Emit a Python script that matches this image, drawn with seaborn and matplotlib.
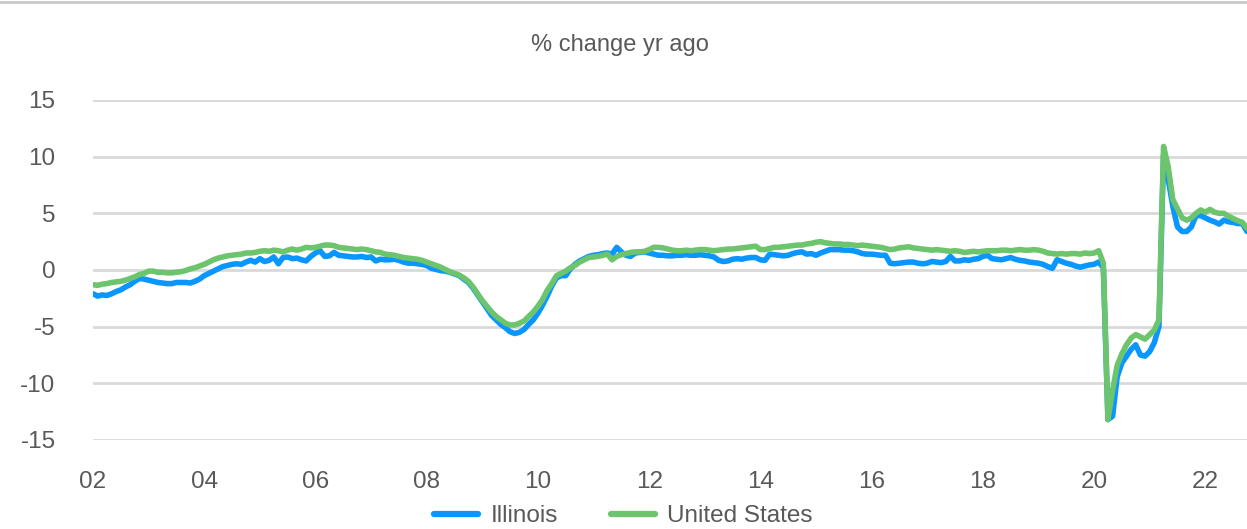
import numpy as np
import pandas as pd
import matplotlib
matplotlib.use("Agg")
import matplotlib.pyplot as plt
import seaborn as sns
from matplotlib.lines import Line2D

# monthly % change yr ago, Jan 2002 - Oct 2022
illinois = [
    -2.1, -2.3, -2.2, -2.25, -2.1, -1.9, -1.75, -1.5, -1.3, -1.0, -0.75, -0.8,   # 2002
    -0.9, -1.0, -1.1, -1.15, -1.2, -1.2, -1.1, -1.1, -1.1, -1.15, -1.0, -0.8,    # 2003
    -0.5, -0.3, -0.1, 0.1, 0.3, 0.4, 0.5, 0.55, 0.5, 0.7, 0.85, 0.7,             # 2004
    1.0, 0.75, 0.85, 1.15, 0.55, 1.1, 1.15, 1.0, 1.05, 0.9, 0.8, 1.2,            # 2005
    1.5, 1.7, 1.2, 1.25, 1.55, 1.3, 1.25, 1.2, 1.15, 1.15, 1.2, 1.1,             # 2006
    1.15, 0.8, 0.95, 0.9, 0.9, 0.95, 0.85, 0.7, 0.6, 0.6, 0.55, 0.5,             # 2007
    0.4, 0.15, 0.05, -0.05, -0.1, -0.2, -0.35, -0.5, -0.8, -1.1, -1.6, -2.2,     # 2008
    -2.8, -3.4, -4.0, -4.4, -4.8, -5.1, -5.45, -5.6, -5.5, -5.25, -4.8, -4.4,    # 2009
    -3.8, -3.1, -2.3, -1.4, -0.7, -0.5, -0.5, 0.1, 0.5, 0.8, 1.0, 1.2,           # 2010
    1.3, 1.35, 1.45, 1.5, 1.4, 2.0, 1.6, 1.3, 1.2, 1.5, 1.55, 1.6,               # 2011
    1.5, 1.4, 1.3, 1.3, 1.25, 1.25, 1.3, 1.3, 1.35, 1.3, 1.3, 1.35,              # 2012
    1.3, 1.25, 1.15, 0.85, 0.75, 0.8, 0.95, 1.0, 0.95, 1.05, 1.1, 1.1,           # 2013
    0.9, 0.85, 1.4, 1.35, 1.3, 1.25, 1.3, 1.45, 1.55, 1.6, 1.4, 1.45,            # 2014
    1.3, 1.5, 1.65, 1.8, 1.8, 1.8, 1.75, 1.75, 1.7, 1.6, 1.45, 1.4,              # 2015
    1.4, 1.35, 1.3, 1.3, 0.6, 0.55, 0.6, 0.65, 0.7, 0.7, 0.6, 0.55,              # 2016
    0.6, 0.75, 0.7, 0.65, 0.75, 1.2, 0.8, 0.8, 0.9, 0.85, 0.95, 1.0,             # 2017
    1.2, 1.3, 1.0, 0.95, 0.9, 1.0, 1.1, 0.95, 0.85, 0.8, 0.7, 0.65,              # 2018
    0.6, 0.5, 0.3, 0.15, 0.9, 0.75, 0.6, 0.5, 0.35, 0.25, 0.35, 0.45,            # 2019
    0.5, 0.7, 0.2, -13.2, -12.9, -9.4, -8.2, -7.6, -7.0, -6.6, -7.5, -7.6,       # 2020
    -7.2, -6.4, -5.0, 10.2, 8.0, 5.6, 3.8, 3.4, 3.4, 3.8, 4.8, 4.8,              # 2021
    4.6, 4.4, 4.25, 4.05, 4.4, 4.25, 4.2, 4.1, 4.1, 3.4,                         # 2022
]

united_states = [
    -1.3, -1.35, -1.25, -1.2, -1.1, -1.05, -1.0, -0.9, -0.75, -0.6, -0.4, -0.3,  # 2002
    -0.1, -0.1, -0.2, -0.2, -0.25, -0.25, -0.2, -0.15, -0.05, 0.1, 0.2, 0.35,    # 2003
    0.5, 0.7, 0.9, 1.05, 1.15, 1.25, 1.3, 1.35, 1.4, 1.5, 1.5, 1.55,             # 2004
    1.65, 1.7, 1.65, 1.75, 1.7, 1.6, 1.75, 1.85, 1.75, 1.85, 2.0, 1.95,          # 2005
    2.0, 2.1, 2.2, 2.2, 2.15, 2.0, 1.95, 1.9, 1.85, 1.8, 1.85, 1.8,              # 2006
    1.7, 1.6, 1.55, 1.4, 1.35, 1.3, 1.2, 1.1, 1.05, 1.0, 0.95, 0.85,             # 2007
    0.7, 0.55, 0.4, 0.25, 0.05, -0.15, -0.3, -0.45, -0.7, -1.0, -1.5, -2.1,      # 2008
    -2.7, -3.2, -3.7, -4.1, -4.4, -4.7, -4.85, -4.85, -4.7, -4.5, -4.1, -3.7,    # 2009
    -3.2, -2.6, -1.8, -1.2, -0.5, -0.3, -0.1, 0.2, 0.4, 0.7, 0.9, 1.1,           # 2010
    1.15, 1.2, 1.3, 1.4, 0.9, 1.2, 1.35, 1.45, 1.55, 1.6, 1.6, 1.65,             # 2011
    1.8, 2.0, 2.0, 1.95, 1.85, 1.75, 1.7, 1.7, 1.75, 1.7, 1.75, 1.8,             # 2012
    1.8, 1.75, 1.7, 1.75, 1.8, 1.85, 1.85, 1.9, 1.95, 2.0, 2.05, 2.1,            # 2013
    1.8, 1.8, 1.9, 2.0, 2.0, 2.05, 2.1, 2.15, 2.2, 2.2, 2.3, 2.35,               # 2014
    2.45, 2.5, 2.4, 2.35, 2.3, 2.3, 2.25, 2.25, 2.2, 2.15, 2.2, 2.15,            # 2015
    2.1, 2.05, 2.0, 1.9, 1.8, 1.85, 1.95, 2.0, 2.05, 1.95, 1.9, 1.85,            # 2016
    1.8, 1.75, 1.8, 1.75, 1.7, 1.65, 1.7, 1.65, 1.55, 1.6, 1.65, 1.6,            # 2017
    1.65, 1.7, 1.7, 1.7, 1.75, 1.75, 1.7, 1.75, 1.8, 1.75, 1.75, 1.8,            # 2018
    1.75, 1.65, 1.5, 1.45, 1.4, 1.45, 1.4, 1.45, 1.45, 1.4, 1.5, 1.45,           # 2019
    1.5, 1.7, 0.6, -13.2, -10.6, -8.4, -7.4, -6.6, -6.0, -5.7, -5.9, -6.1,       # 2020
    -5.7, -5.3, -4.4, 10.9, 9.1, 6.2, 5.4, 4.6, 4.4, 4.6, 5.0, 5.3,              # 2021
    5.1, 5.35, 5.1, 5.0, 5.0, 4.75, 4.55, 4.35, 4.2, 3.7,                        # 2022
]

series_names = ["Illinois", "United States"]
colors = ["#0A96FF", "#6CC46C"]
year_ticks = list(range(2002, 2023, 2))
year_labels = ["02", "04", "06", "08", "10", "12", "14", "16", "18", "20", "22"]
y_ticks = [-15, -10, -5, 0, 5, 10, 15]

dates = 2002 + np.arange(len(illinois)) / 12.0
df = pd.DataFrame({
    "date": np.concatenate([dates, dates]),
    "value": illinois + united_states,
    "series": [series_names[0]] * len(illinois) + [series_names[1]] * len(united_states),
})

sns.set_style("white")
plt.rcParams["font.family"] = ["Liberation Sans", "DejaVu Sans"]
plt.rcParams["axes.unicode_minus"] = False
text_color = "#595959"

fig = plt.figure(figsize=(12.47, 5.29), dpi=100)
ax = fig.add_axes([93 / 1247, 1 - 440 / 529, 1 - 93 / 1247, 340 / 529])

sns.lineplot(data=df, x="date", y="value", hue="series", palette=colors,
             hue_order=series_names, linewidth=4.0, ax=ax, legend=False)

ax.set_xlim(2002, dates[-1])
ax.set_ylim(-15, 15)
ax.set_xticks(year_ticks)
ax.set_xticklabels(year_labels)
ax.set_yticks(y_ticks)
ax.yaxis.grid(True, color="#d9d9d9", linewidth=2)
ax.set_axisbelow(True)
for s in ax.spines.values():
    s.set_visible(False)
ax.tick_params(axis="both", length=0, labelsize=17.5, colors=text_color)
ax.tick_params(axis="x", pad=22)
ax.tick_params(axis="y", pad=27)
ax.set_xlabel("")
ax.set_ylabel("")

fig.text(0.497, 1 - 45 / 529, "% change yr ago", ha="center", va="center",
         fontsize=17, color=text_color)
fig.add_artist(Line2D([0, 1], [1 - 2 / 529, 1 - 2 / 529], color="#c8c8c8", linewidth=2))

handles = [Line2D([], [], color=c, linewidth=4.5) for c in colors]
fig.legend(handles, series_names, loc="center", bbox_to_anchor=(0.5, 1 - 516 / 529),
           ncol=2, frameon=False, fontsize=17.5, handlelength=1.8, columnspacing=2.2,
           labelcolor=text_color, handletextpad=0.5)

fig.savefig("out.png", dpi=100)
